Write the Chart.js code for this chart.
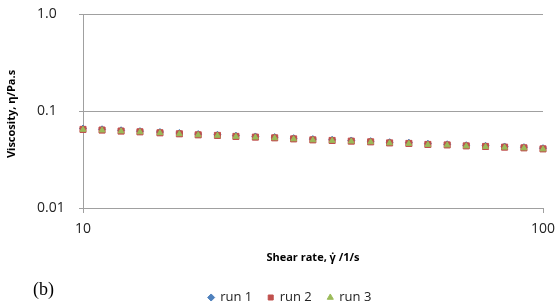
<!DOCTYPE html>
<html>
<head>
<meta charset="utf-8">
<script src="https://cdn.jsdelivr.net/npm/chart.js@4.4.1/dist/chart.umd.min.js"></script>
<style>
  html, body { margin: 0; padding: 0; background: #fff; }
</style>
</head>
<body>
<canvas id="myChart" width="558" height="304"></canvas>
<script>
// shear rate, 1/s (log spaced)
const shearRate = [10, 11.0, 12.1, 13.3, 14.7, 16.2, 17.8, 19.6, 21.5, 23.7, 26.1, 28.7, 31.6,
  34.8, 38.3, 42.2, 46.4, 51.1, 56.2, 61.9, 68.1, 75.0, 82.5, 90.9, 100];

// viscosity, Pa.s
const run1 = [0.0660, 0.0648, 0.0633, 0.0620, 0.0607, 0.0593, 0.0578, 0.0569, 0.0557, 0.0547, 0.0538, 0.0525, 0.0513,
  0.0505, 0.0497, 0.0489, 0.0477, 0.0471, 0.0460, 0.0454, 0.0444, 0.0438, 0.0431, 0.0424, 0.0414];
const run2 = [0.0646, 0.0636, 0.0621, 0.0610, 0.0596, 0.0582, 0.0568, 0.0560, 0.0547, 0.0538, 0.0529, 0.0516, 0.0504,
  0.0497, 0.0489, 0.0481, 0.0469, 0.0463, 0.0452, 0.0447, 0.0437, 0.0431, 0.0424, 0.0417, 0.0407];
const run3 = [0.0642, 0.0632, 0.0618, 0.0606, 0.0593, 0.0579, 0.0565, 0.0557, 0.0544, 0.0535, 0.0526, 0.0513, 0.0501,
  0.0494, 0.0486, 0.0478, 0.0466, 0.0460, 0.0449, 0.0444, 0.0434, 0.0428, 0.0421, 0.0414, 0.0404];

const xTicks = [10, 100];
const yTicks = [0.01, 0.1, 1];
const yTickLabels = ['0.01', '0.1', '1.0'];

const toPoints = ys => ys.map((y, i) => ({ x: shearRate[i], y: y }));

// y axis title and panel letter
const extraText = {
  id: 'extraText',
  afterDraw(chart) {
    const ctx = chart.ctx;
    ctx.save();
    ctx.fillStyle = '#000';
    ctx.font = 'bold 11px "Open Sans"';
    ctx.textAlign = 'center';
    ctx.textBaseline = 'middle';
    ctx.translate(12, 114);
    ctx.rotate(-Math.PI / 2);
    ctx.fillText('Viscosity, η/Pa.s', 0, 0);
    ctx.restore();

    ctx.save();
    ctx.fillStyle = '#000';
    ctx.font = '18px "Liberation Serif"';
    ctx.textAlign = 'left';
    ctx.textBaseline = 'middle';
    ctx.fillText('(b)', 33, 290);
    ctx.restore();
  }
};

const gridColor = '#a0a0a0';

new Chart(document.getElementById('myChart'), {
  type: 'scatter',
  data: {
    datasets: [
      { label: 'run 1', data: toPoints(run1), pointStyle: 'rectRot', pointRadius: 3.5,
        backgroundColor: '#4F81BD', borderColor: '#4F81BD', borderWidth: 1, order: 3, clip: false },
      { label: 'run 2', data: toPoints(run2), pointStyle: 'rect', pointRadius: 4.3,
        backgroundColor: '#C0504D', borderColor: '#C0504D', borderWidth: 1, order: 2, clip: false },
      { label: 'run 3', data: toPoints(run3), pointStyle: 'triangle', pointRadius: 3.3,
        backgroundColor: '#9BBB59', borderColor: '#9BBB59', borderWidth: 1, order: 1, clip: false }
    ]
  },
  options: {
    responsive: false,
    animation: false,
    layout: { padding: { left: 37, right: 15, top: 14, bottom: -10 } },
    plugins: {
      tooltip: { enabled: false },
      legend: {
        position: 'bottom',
        labels: {
          usePointStyle: true,
          boxWidth: 5,
          boxHeight: 5,
          padding: 16,
          color: '#222',
          font: { family: '"Open Sans"', size: 13 },
          sort: (a, b) => a.datasetIndex - b.datasetIndex
        }
      }
    },
    scales: {
      x: {
        type: 'logarithmic',
        min: 10,
        max: 100,
        afterBuildTicks: s => { s.ticks = xTicks.map(v => ({ value: v })); },
        afterFit: s => { s.height = 67; s.paddingLeft = 0; s.paddingRight = 0; },
        ticks: {
          color: '#222',
          font: { family: '"Open Sans"', size: 14 },
          padding: 8,
          maxRotation: 0,
          callback: v => String(v)
        },
        grid: { drawOnChartArea: false, drawTicks: true, tickLength: 5, color: gridColor },
        border: { display: false },
        title: {
          display: true,
          text: 'Shear rate, γ̇ /1/s',
          color: '#000',
          font: { family: '"Open Sans"', size: 11, weight: 'bold' },
          padding: { top: 11, bottom: 11 }
        }
      },
      y: {
        type: 'logarithmic',
        min: 0.01,
        max: 1,
        afterBuildTicks: s => { s.ticks = yTicks.map(v => ({ value: v })); },
        afterFit: s => { s.width = 46; },
        ticks: {
          color: '#222',
          font: { family: '"Open Sans"', size: 14 },
          crossAlign: 'far',
          callback: (v, i) => yTickLabels[i]
        },
        grid: { color: gridColor, tickLength: 4 },
        border: { display: true, color: gridColor }
      }
    }
  },
  plugins: [extraText]
});
</script>
</body>
</html>
